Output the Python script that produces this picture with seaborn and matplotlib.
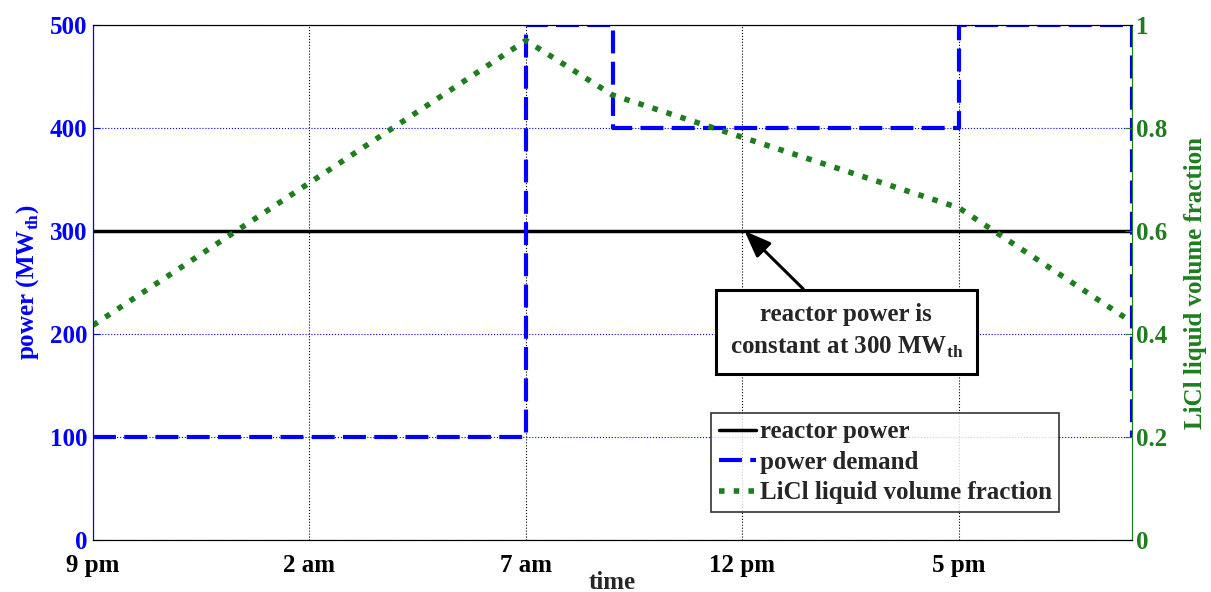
import numpy as np
import pandas as pd
import matplotlib
matplotlib.use('Agg')
import matplotlib.pyplot as plt
import seaborn as sns

sns.set_style('white')
plt.rcParams['font.family'] = ['Liberation Serif', 'DejaVu Serif']
plt.rcParams['font.weight'] = 'bold'
plt.rcParams['mathtext.fontset'] = 'custom'
plt.rcParams['mathtext.rm'] = 'Liberation Serif:bold'
plt.rcParams['mathtext.bf'] = 'Liberation Serif:bold'

# data (hours after 9 pm)
reactor_hours = [0, 24]
reactor_power = [300, 300]

demand_hours = [0, 10, 12, 20, 24]
demand_power = [100, 500, 400, 500, 100]

licl_hours = [0, 10, 12, 20, 24]
licl_fraction = [0.417, 0.97, 0.864, 0.645, 0.423]

tick_hours = [0, 5, 10, 15, 20]
tick_labels = ['9 pm', '2 am', '7 am', '12 pm', '5 pm']

blue = '#0000ff'
green = '#1e7d1e'
fs = 18

fig = plt.figure(figsize=(12.11, 5.92), dpi=100)
ax = fig.add_axes([0.0768, 0.0878, 0.858, 0.870])
ax2 = ax.twinx()

sns.lineplot(x=reactor_hours, y=reactor_power, ax=ax, color='black', lw=2.5,
             label='reactor power', legend=False)
sns.lineplot(x=demand_hours, y=demand_power, ax=ax, color=blue, lw=3,
             drawstyle='steps-post', estimator=None, label='power demand',
             legend=False)
ax.lines[-1].set_dashes([5.5, 2])
sns.lineplot(x=licl_hours, y=licl_fraction, ax=ax2, color=green, lw=4,
             estimator=None, label='LiCl liquid volume fraction', legend=False)
ax2.lines[-1].set_linestyle(':')

ax.set_xlim(0, 24)
ax.set_ylim(0, 500)
ax2.set_ylim(0, 1)
ax.set_xticks(tick_hours)
ax.set_xticklabels(tick_labels)
ax.set_yticks([0, 100, 200, 300, 400, 500])
ax2.set_yticks([0, 0.2, 0.4, 0.6, 0.8, 1])
ax2.set_yticklabels(['0', '0.2', '0.4', '0.6', '0.8', '1'])

ax.tick_params(axis='x', direction='in', labelsize=fs, colors='black', length=5, pad=10)
ax.tick_params(axis='y', direction='in', labelsize=fs, colors=blue, length=5, pad=4)
ax2.tick_params(axis='y', direction='in', labelsize=fs, colors=green, length=5, pad=3)
for lab in ax.get_xticklabels() + ax.get_yticklabels() + ax2.get_yticklabels():
    lab.set_fontweight('bold')

ax.xaxis.grid(True, linestyle=':', color='black', lw=0.8)
ax.yaxis.grid(True, linestyle=':', color=blue, lw=0.8)

for a in (ax, ax2):
    a.spines['top'].set_color('black')
    a.spines['bottom'].set_color('black')
    a.spines['left'].set_color(blue)
    a.spines['right'].set_color(green)

ax.set_xlabel('time', fontsize=fs, fontweight='bold', labelpad=-4)
ax.set_ylabel('power (MW$_{\\mathrm{th}}$)', fontsize=fs, fontweight='bold',
              color=blue, labelpad=6)
ax2.set_ylabel('LiCl liquid volume fraction', fontsize=fs, fontweight='bold',
               color=green, labelpad=12)

ax2.annotate('reactor power is\nconstant at 300 MW$_{\\mathrm{th}}$',
             xy=(15.05, 0.6), xytext=(17.4, 0.405), textcoords='data',
             ha='center', va='center', fontsize=fs, fontweight='bold',
             linespacing=1.5,
             bbox=dict(boxstyle='square,pad=0.55', fc='white', ec='black', lw=2.2),
             arrowprops=dict(arrowstyle='-|>,head_length=0.9,head_width=0.35',
                             color='black', lw=2.2, shrinkA=0, shrinkB=0),
             zorder=5)

handles = ax.lines[:2] + ax2.lines[:1]
labels = ['reactor power', 'power demand', 'LiCl liquid volume fraction']
leg = ax2.legend(handles, labels, loc='upper left', bbox_to_anchor=(0.595, 0.247),
                 borderaxespad=0, frameon=True, fancybox=False,
                 handlelength=1.5, handletextpad=0.15, labelspacing=0.3,
                 borderpad=0.3, prop={'weight': 'bold', 'size': fs})
leg.get_frame().set_edgecolor('black')
leg.get_frame().set_linewidth(1.2)

fig.savefig('out.png', dpi=100)
